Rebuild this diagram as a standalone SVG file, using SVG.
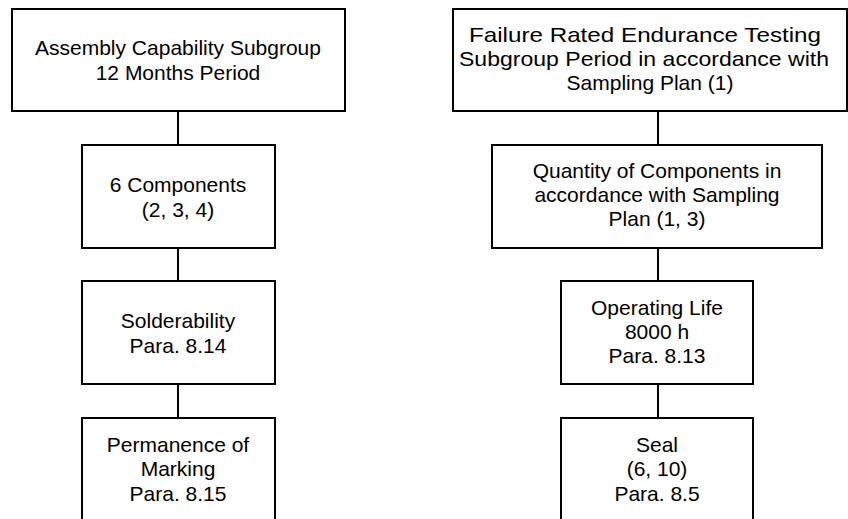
<svg xmlns="http://www.w3.org/2000/svg" width="848" height="519" viewBox="0 0 848 519">
<style>
.box{fill:#fff;stroke:#000;stroke-width:2}
.con{stroke:#000;stroke-width:2;fill:none}
text{font-family:"Liberation Sans",Arial,sans-serif;font-size:21px;fill:#000;text-anchor:middle}
</style>
<rect width="848" height="519" fill="#fff"/>
<g id="connectors">
<line class="con" x1="178" y1="111" x2="178" y2="145"/>
<line class="con" x1="178" y1="248" x2="178" y2="281"/>
<line class="con" x1="178" y1="384" x2="178" y2="418"/>
<line class="con" x1="658" y1="111" x2="658" y2="145"/>
<line class="con" x1="658" y1="248" x2="658" y2="281"/>
<line class="con" x1="658" y1="384" x2="658" y2="418"/>
</g>
<g id="L1">
<rect class="box" x="12" y="9" width="333" height="102"/>
<text x="178" y="55">Assembly Capability Subgroup</text>
<text x="178" y="80">12 Months Period</text>
</g>
<g id="L2">
<rect class="box" x="82" y="145" width="193" height="103"/>
<text x="178" y="192">6 Components</text>
<text x="178" y="217">(2, 3, 4)</text>
</g>
<g id="L3">
<rect class="box" x="82" y="281" width="193" height="103"/>
<text x="178" y="328">Solderability</text>
<text x="178" y="353">Para. 8.14</text>
</g>
<g id="L4">
<rect class="box" x="82" y="418" width="193" height="103"/>
<text x="178" y="452">Permanence of</text>
<text x="178" y="476">Marking</text>
<text x="178" y="501">Para. 8.15</text>
</g>
<g id="R1">
<rect class="box" x="453" y="9" width="394" height="102"/>
<text x="645" y="42" textLength="352" lengthAdjust="spacingAndGlyphs">Failure Rated Endurance Testing</text>
<text x="644" y="66" textLength="370" lengthAdjust="spacingAndGlyphs">Subgroup Period in accordance with</text>
<text x="650" y="90">Sampling Plan (1)</text>
</g>
<g id="R2">
<rect class="box" x="492" y="145" width="330" height="103"/>
<text x="657" y="178">Quantity of Components in</text>
<text x="657" y="202">accordance with Sampling</text>
<text x="657" y="226">Plan (1, 3)</text>
</g>
<g id="R3">
<rect class="box" x="561" y="281" width="192" height="103"/>
<text x="657" y="315">Operating Life</text>
<text x="657" y="339">8000 h</text>
<text x="657" y="363">Para. 8.13</text>
</g>
<g id="R4">
<rect class="box" x="561" y="418" width="192" height="103"/>
<text x="657" y="452">Seal</text>
<text x="657" y="476">(6, 10)</text>
<text x="657" y="501">Para. 8.5</text>
</g>
</svg>
